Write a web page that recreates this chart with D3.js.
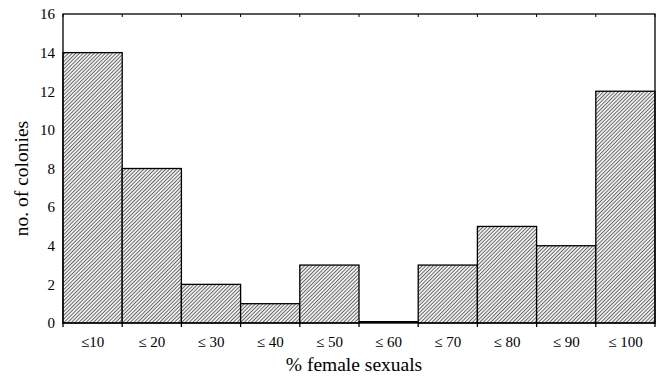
<!DOCTYPE html>
<html>
<head>
<meta charset="utf-8">
<script src="https://cdn.jsdelivr.net/npm/d3@7"></script>
<style>
  body { margin: 0; background: #fff; overflow: hidden; }
  svg { display: block; }
</style>
</head>
<body>
<div id="chart"></div>
<script>
const categories = ['≤10', '≤ 20', '≤ 30', '≤ 40', '≤ 50', '≤ 60', '≤ 70', '≤ 80', '≤ 90', '≤ 100'];
const colonies = [14, 8, 2, 1, 3, 0, 3, 5, 4, 12];
const yTicks = [0, 2, 4, 6, 8, 10, 12, 14, 16];

const FONT = '"Liberation Serif", "Times New Roman", "DejaVu Serif", serif';

const width = 659, height = 382;
const margin = { top: 14, right: 4, bottom: 59, left: 63 };
const innerWidth = width - margin.left - margin.right;
const innerHeight = height - margin.top - margin.bottom;

const svg = d3.select('#chart').append('svg')
  .attr('width', width)
  .attr('height', height)
  .attr('font-family', FONT);

// hatch pattern
const defs = svg.append('defs');
const pat = defs.append('pattern')
  .attr('id', 'hatch')
  .attr('patternUnits', 'userSpaceOnUse')
  .attr('width', 2.6)
  .attr('height', 2.6)
  .attr('patternTransform', 'rotate(45)');
pat.append('rect').attr('width', 2.6).attr('height', 2.6).attr('fill', '#eeeeee');
pat.append('line')
  .attr('x1', 0).attr('y1', 0).attr('x2', 0).attr('y2', 2.6)
  .attr('stroke', '#222').attr('stroke-width', 1.2);

const g = svg.append('g')
  .attr('transform', `translate(${margin.left},${margin.top})`);

const x = d3.scaleBand()
  .domain(categories)
  .range([0, innerWidth])
  .padding(0);

const y = d3.scaleLinear()
  .domain([0, 16])
  .range([innerHeight, 0]);

// bars
g.selectAll('.bar')
  .data(colonies)
  .enter()
  .append('rect')
  .attr('class', 'bar')
  .attr('x', (d, i) => x(categories[i]))
  .attr('y', d => y(d))
  .attr('width', x.bandwidth())
  .attr('height', d => innerHeight - y(d))
  .attr('fill', 'url(#hatch)')
  .attr('stroke', '#000')
  .attr('stroke-width', 1.3);

// zero-height bar shows as a thick baseline
g.selectAll('.zero')
  .data(colonies.map((v, i) => ({ v, i })).filter(d => d.v === 0))
  .enter()
  .append('line')
  .attr('x1', d => x(categories[d.i]))
  .attr('x2', d => x(categories[d.i]) + x.bandwidth())
  .attr('y1', y(0) - 1)
  .attr('y2', y(0) - 1)
  .attr('stroke', '#000')
  .attr('stroke-width', 2);

// frame
g.append('rect')
  .attr('x', 0).attr('y', 0)
  .attr('width', innerWidth).attr('height', innerHeight)
  .attr('fill', 'none')
  .attr('stroke', '#000')
  .attr('stroke-width', 1.3);

const boundaries = d3.range(categories.length + 1).map(i => i * x.step());

// top ticks (inward)
g.selectAll('.tt')
  .data(boundaries)
  .enter()
  .append('line')
  .attr('x1', d => d).attr('x2', d => d)
  .attr('y1', 0).attr('y2', 3)
  .attr('stroke', '#000');

// bottom ticks (outward)
g.selectAll('.bt')
  .data(boundaries)
  .enter()
  .append('line')
  .attr('x1', d => d).attr('x2', d => d)
  .attr('y1', innerHeight).attr('y2', innerHeight + 4)
  .attr('stroke', '#000')
  .attr('stroke-width', 1.3);

// Y axis labels
const yAxis = g.append('g')
  .call(d3.axisLeft(y).tickValues(yTicks).tickSize(0).tickPadding(8))
  .attr('font-family', FONT)
  .attr('font-size', 15);
yAxis.select('.domain').remove();
yAxis.selectAll('text').attr('fill', '#000');

// X labels
g.selectAll('.xl')
  .data(categories)
  .enter()
  .append('text')
  .attr('x', d => x(d) + x.bandwidth() / 2)
  .attr('y', innerHeight + 24)
  .attr('text-anchor', 'middle')
  .attr('font-size', 15)
  .text(d => d);

// axis titles
svg.append('text')
  .attr('x', margin.left + innerWidth / 2 - 5)
  .attr('y', 371)
  .attr('text-anchor', 'middle')
  .attr('font-size', 19.5)
  .text('% female sexuals');

svg.append('text')
  .attr('transform', `translate(28,${margin.top + innerHeight / 2 + 10}) rotate(-90)`)
  .attr('text-anchor', 'middle')
  .attr('font-size', 19.5)
  .text('no. of colonies');
</script>
</body>
</html>
